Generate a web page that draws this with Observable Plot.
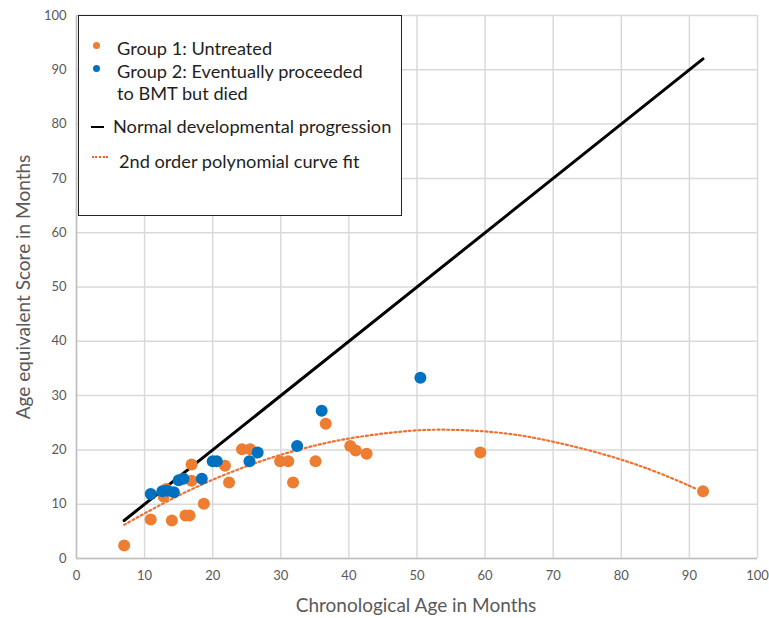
<!DOCTYPE html>
<html><head><meta charset="utf-8">
<script src="https://cdn.jsdelivr.net/npm/d3@7"></script>
<script src="https://cdn.jsdelivr.net/npm/@observablehq/plot@0.6"></script>
<style>
body{margin:0;background:#fff;}
#wrap{position:relative;width:769px;height:618px;font-family:Lato,"Open Sans",sans-serif;}
#legend{position:absolute;left:78px;top:15px;width:324px;height:201px;border:1.6px solid #222;background:#fff;box-sizing:border-box;color:#1f1f1f;font-size:18.2px;}
#legend .row{position:absolute;white-space:nowrap;}
#legend .sym{position:absolute;}
.title{position:absolute;color:#595959;font-size:19px;white-space:nowrap;}
</style>
</head><body>
<div id="wrap"></div>
<script>
// Group 1: Untreated  (chronological age, age-equivalent score)
const group1Age   = [7, 10.9, 12.8, 13.2, 14.0, 16.0, 16.6, 16.9, 16.9, 18.7, 21.8, 22.4, 24.3, 25.5, 29.9, 31.1, 31.8, 35.1, 36.6, 40.2, 41.0, 42.6, 59.3, 92.0];
const group1Score = [2.4, 7.2, 11.4, 12.8, 7.0, 7.9, 7.9, 17.3, 14.3, 10.1, 17.1, 14.0, 20.1, 20.1, 17.9, 17.9, 14.0, 17.9, 24.8, 20.7, 19.9, 19.3, 19.5, 12.4];
// Group 2: Eventually proceeded to BMT but died
const group2Age   = [10.9, 12.6, 13.3, 14.3, 15.0, 15.7, 18.4, 20.0, 20.6, 25.4, 26.6, 32.4, 36.0, 50.5];
const group2Score = [11.9, 12.4, 12.5, 12.2, 14.4, 14.7, 14.7, 17.9, 17.9, 17.9, 19.5, 20.7, 27.2, 33.3];
// Normal developmental progression
const normalAge   = [7, 92];
const normalScore = [7, 92];
// 2nd order polynomial curve fit
const fitAge   = [7, 10, 15, 20, 25, 30, 35, 40, 45, 50, 55, 60, 65, 70, 75, 80, 85, 90, 90.8];
const fitScore = [6.2, 8.3, 11.6, 14.5, 17.0, 19.1, 20.8, 22.1, 23.0, 23.6, 23.7, 23.4, 22.7, 21.5, 20.0, 18.2, 16.0, 13.4, 12.9];
// ticks
const xTicks = [0, 10, 20, 30, 40, 50, 60, 70, 80, 90, 100];
const yTicks = [0, 10, 20, 30, 40, 50, 60, 70, 80, 90, 100];

const g1 = group1Age.map((x, i) => ({x, y: group1Score[i]}));
const g2 = group2Age.map((x, i) => ({x, y: group2Score[i]}));
const normal = normalAge.map((x, i) => ({x, y: normalScore[i]}));
const fit = fitAge.map((x, i) => ({x, y: fitScore[i]}));

const chart = Plot.plot({
  width: 769, height: 618,
  marginLeft: 76, marginRight: 12, marginTop: 15, marginBottom: 60,
  x: {domain: [0, 100]},
  y: {domain: [0, 100]},
  style: {fontFamily: "Lato, 'Open Sans', sans-serif", fontSize: "13px", color: "#595959", background: "#fff"},
  marks: [
    Plot.gridX(xTicks, {stroke: "#d9d9d9", strokeOpacity: 1, strokeWidth: 1.5}),
    Plot.gridY(yTicks, {stroke: "#d9d9d9", strokeOpacity: 1, strokeWidth: 1.5}),
    Plot.ruleX([0], {stroke: "#bfbfbf", strokeWidth: 1.5}),
    Plot.ruleY([0], {stroke: "#bfbfbf", strokeWidth: 1.5}),
    Plot.axisX(xTicks, {tickSize: 0, tickPadding: 12, label: null, fill: "#595959"}),
    Plot.axisY(yTicks, {tickSize: 0, tickPadding: 10, label: null, fill: "#595959"}),
    Plot.line(fit, {x: "x", y: "y", stroke: "#F07030", strokeWidth: 2.2, strokeDasharray: "2,2.8", curve: "natural"}),
    Plot.line(normal, {x: "x", y: "y", stroke: "#000", strokeWidth: 3}),
    Plot.dot(g1, {x: "x", y: "y", r: 6, fill: "#ED7D31", stroke: "none"}),
    Plot.dot(g2, {x: "x", y: "y", r: 6, fill: "#0070C0", stroke: "none"})
  ]
});
const wrap = document.getElementById("wrap");
wrap.appendChild(chart);

const xt = document.createElement("div");
xt.className = "title";
xt.textContent = "Chronological  Age in Months";
xt.style.left = "416px"; xt.style.top = "593px"; xt.style.transform = "translateX(-50%)";
wrap.appendChild(xt);

const yt = document.createElement("div");
yt.className = "title";
yt.textContent = "Age equivalent Score in Months";
yt.style.left = "22px"; yt.style.top = "287px"; yt.style.transform = "translate(-50%,-50%) rotate(-90deg)";
wrap.appendChild(yt);

const legendItems = [
  {type: "dot", color: "#ED7D31", lines: ["Group 1: Untreated"]},
  {type: "dot", color: "#0070C0", lines: ["Group 2: Eventually proceeded", "to BMT but died"]},
  {type: "line", color: "#000", lines: ["Normal developmental progression"]},
  {type: "dotted", color: "#FF5A1F", lines: ["2nd order polynomial curve fit"]}
];
const lg = document.createElement("div");
lg.id = "legend";
const rows = [
  {top: 21, symX: 14, textX: 38},
  {top: 44, symX: 14, textX: 38},
  {top: 99, symX: 12, textX: 34},
  {top: 134, symX: 13, textX: 40}
];
legendItems.forEach((it, i) => {
  const r = rows[i];
  const t = document.createElement("div");
  t.className = "row";
  t.style.left = r.textX + "px"; t.style.top = r.top + "px";
  t.innerHTML = it.lines.join("<br>");
  t.style.lineHeight = "22px";
  lg.appendChild(t);
  const s = document.createElement("div");
  s.className = "sym";
  if (it.type === "dot") {
    s.style.cssText = `left:${r.symX}px;top:${r.top + 5}px;width:7px;height:7px;border-radius:50%;background:${it.color}`;
  } else if (it.type === "line") {
    s.style.cssText = `left:${r.symX}px;top:${r.top + 11}px;width:13px;height:1.6px;background:${it.color}`;
  } else {
    s.style.cssText = `left:${r.symX}px;top:${r.top + 6}px;width:16px;height:0;border-top:2px dotted ${it.color}`;
  }
  lg.appendChild(s);
});
wrap.appendChild(lg);
</script>
</body></html>
